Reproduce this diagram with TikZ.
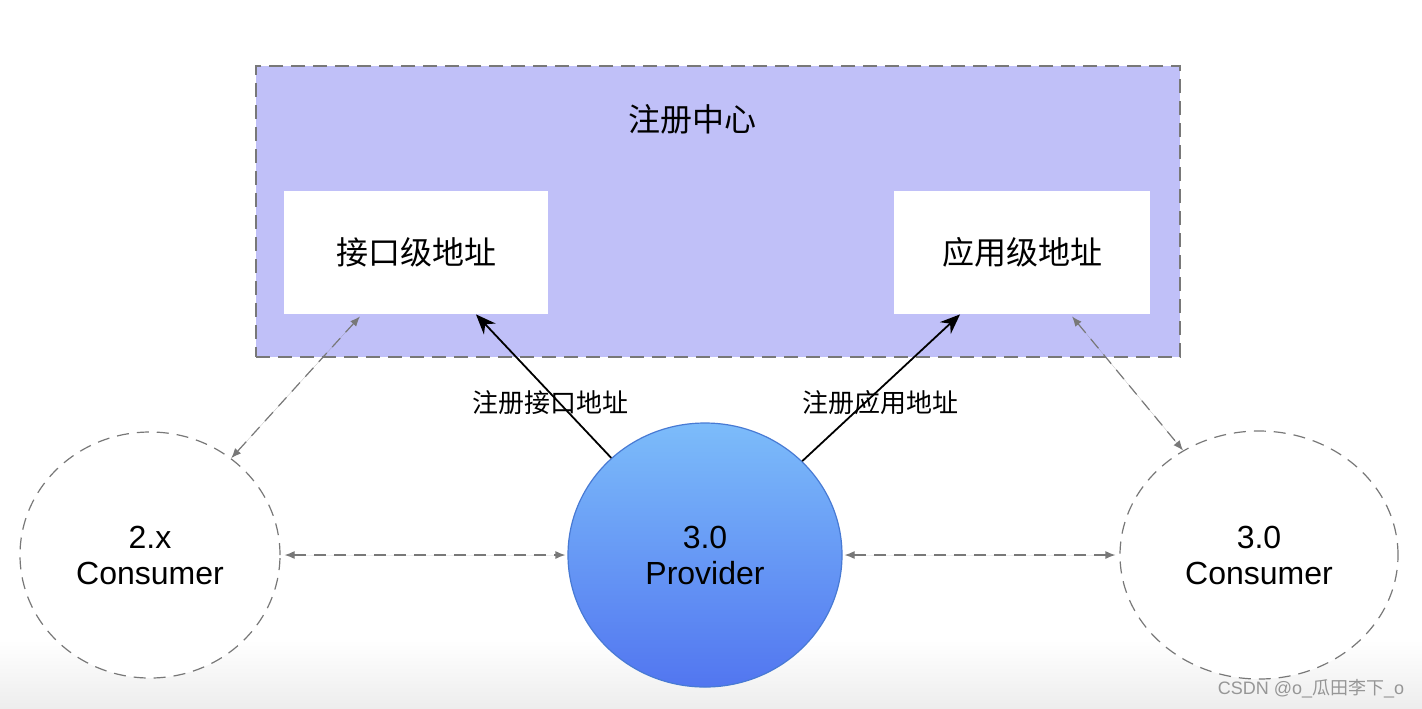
\documentclass[tikz,border=0pt]{standalone}
\usepackage{fontspec}
\setmainfont{Liberation Sans}
\newfontfamily\cjk{Noto Sans CJK SC}
\usetikzlibrary{arrows.meta,shapes.geometric}
\definecolor{regfill}{RGB}{192,192,248}
\definecolor{dgray}{RGB}{120,120,120}
\definecolor{provtop}{RGB}{124,188,250}
\definecolor{provbot}{RGB}{82,118,240}
\definecolor{provline}{RGB}{72,122,212}
\definecolor{wm}{RGB}{150,150,150}
\tikzset{
  registry/.style={draw=dgray, line width=0.7pt, dash pattern=on 7pt off 4pt, fill=regfill,
    minimum width=462pt, minimum height=145.5pt, inner sep=0pt},
  whitebox/.style={fill=white, minimum height=61.5pt, inner sep=0pt, font=\cjk\fontsize{16}{19}\selectfont},
  consumer/.style={ellipse, draw=dgray, line width=0.6pt, dash pattern=on 6pt off 4pt, fill=white,
    inner sep=0pt, align=center, font=\fontsize{16}{18}\selectfont},
  provider/.style={ellipse, draw=provline, line width=0.6pt, top color=provtop, bottom color=provbot,
    inner sep=0pt, align=center, font=\fontsize{16}{18}\selectfont},
  regarrow/.style={-{Stealth[length=10pt,width=8pt]}, line width=0.9pt, black},
  peerarrow/.style={{Latex[length=5pt,width=4pt]}-{Latex[length=5pt,width=4pt]}, draw=dgray, fill=dgray,
    line width=0.6pt, dash pattern=on 6pt off 4pt},
  lbl/.style={font=\cjk\fontsize{13}{15}\selectfont, inner sep=1pt}
}
\begin{document}
\begin{tikzpicture}[x=0.5pt,y=-0.5pt]
\useasboundingbox (0,0) rectangle (1422,708);
\fill[white] (0,0) rectangle (1422,708);
\shade[top color=white, bottom color=black!7] (0,640) rectangle (1422,708);

\node[registry] (reg) at (718,211.5) {};
\node[font=\cjk\fontsize{16}{19}\selectfont] (regtitle) at (692,119) {注册中心};
\node[whitebox, minimum width=132pt] (lbox) at (416,252.5) {接口级地址};
\node[whitebox, minimum width=128pt] (rbox) at (1022,252.5) {应用级地址};

\node[consumer, minimum width=130pt, minimum height=123pt] (lc) at (150,555) {2.x\\Consumer};
\node[provider, minimum width=137pt, minimum height=132pt] (prov) at (705,555) {3.0\\Provider};
\node[consumer, minimum width=139pt, minimum height=124pt] (rc) at (1259,555) {3.0\\Consumer};

\draw[regarrow] (prov.134) -- ([xshift=30pt]lbox.south);
\draw[regarrow] (prov.44) -- ([xshift=-31pt]rbox.south);
\node[lbl] (l1) at (550,403) {注册接口地址};
\node[lbl] (l2) at (880,403) {注册应用地址};

\draw[peerarrow] ([xshift=-28pt,yshift=-1pt]lbox.south) -- (lc.50);
\draw[peerarrow] ([xshift=25pt,yshift=-1pt]rbox.south) -- (rc.126);
\draw[peerarrow] ([xshift=2pt]lc.east) -- ([xshift=-1pt]prov.west);
\draw[peerarrow] ([xshift=1pt]prov.east) -- ([xshift=-2pt]rc.west);

\node[text=wm, font=\fontsize{9}{10}\selectfont, inner sep=0pt] (wmark) at (1311,689) {CSDN @o\_{\cjk 瓜田李下}\_o};
\end{tikzpicture}
\end{document}
